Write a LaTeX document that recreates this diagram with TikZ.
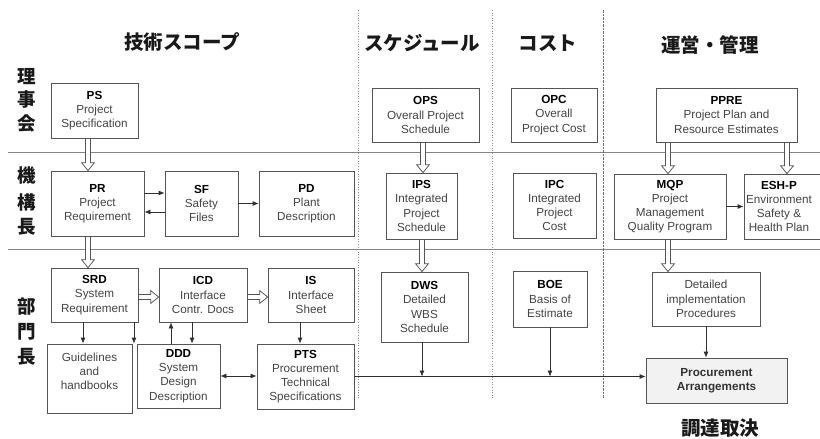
\documentclass[tikz,border=0pt]{standalone}
\usepackage{fontspec}
\setmainfont{Liberation Sans}
\newfontfamily\cjk{Noto Sans CJK JP}
\usetikzlibrary{arrows.meta,calc}
\definecolor{boxline}{HTML}{555555}
\definecolor{sepline}{HTML}{858585}
\definecolor{desc}{HTML}{454545}
\definecolor{arrline}{HTML}{303030}
\definecolor{pafill}{HTML}{F2F2F2}
\newcommand\ab[1]{{\bfseries\color{black}#1}}
\tikzset{
  box/.style={draw=boxline, line width=0.75pt, fill=white, align=center, inner sep=0pt,
    text=desc, font=\fontsize{11.7}{14.2}\selectfont},
  txt/.style={align=center, inner sep=0pt, text=desc, font=\fontsize{11.7}{14.2}\selectfont},
  arr/.style={draw=arrline, line width=0.75pt, -{Latex[length=6pt,width=5pt]}},
  biarr/.style={draw=arrline, line width=0.75pt, {Latex[length=6pt,width=5pt]}-{Latex[length=6pt,width=5pt]}},
  fat/.style={draw=boxline, fill=white, line width=0.75pt, line join=miter,
    to path={let \p1=(\tikztostart), \p2=(\tikztotarget), \p3=($(\p2)!8pt!(\p1)$) in
      ($(\p1)!2.6pt!90:(\p2)$) -- ($(\p3)!2.6pt!-90:(\p1)$) -- ($(\p3)!6.5pt!-90:(\p1)$)
      -- (\p2) -- ($(\p3)!6.5pt!90:(\p1)$) -- ($(\p3)!2.6pt!90:(\p1)$)
      -- ($(\p1)!2.6pt!-90:(\p2)$) -- cycle}},
  head/.style={font=\cjk\bfseries\fontsize{19.5}{22}\selectfont, text=black!90},
  side/.style={font=\cjk\bfseries\fontsize{18.5}{20}\selectfont, text=black!90},
  sep/.style={draw=sepline, line width=0.8pt},
  dotsep/.style={draw=black!45, line width=0.6pt, dotted},
  dashsep/.style={draw=black!55, line width=0.9pt, dash pattern=on 2.5pt off 1pt},
}
\begin{document}
\begin{tikzpicture}[x=1pt,y=-1pt]
\useasboundingbox (0,0) rectangle (820,439);
\clip (0,0) rectangle (820,439);

% separators
\draw[sep] (8,152) -- (820,152);
\draw[sep] (8,249) -- (820,249);
\draw[dotsep] (358,10) -- (358,398);
\draw[dotsep] (492,10) -- (492,398);
\draw[dashsep] (603,10) -- (603,398);

% headers
\node[head] (h1) at (182,42) {技術スコープ};
\node[head] (h2) at (422,43) {スケジュール};
\node[head] (h3) at (548,43) {コスト};
\node[head] (h4) at (710,45) {運営・管理};
\node[head] (h5) at (720,428) {調達取決};

% side labels
\node[side] (s1) at (27,77) {理};
\node[side] (s2) at (27,99) {事};
\node[side] (s3) at (27,123) {会};
\node[side] (s4) at (27,175) {機};
\node[side] (s5) at (27,202) {構};
\node[side] (s6) at (27,227) {長};
\node[side] (s7) at (27,307) {部};
\node[side] (s8) at (27,332) {門};
\node[side] (s9) at (27,357) {長};

% boxes
\node[box, minimum width=87pt, minimum height=55pt] (ps) at (94.5,110.5) {\ab{PS}\\Project\\Specification};
\node[box, minimum width=93pt, minimum height=65pt] (pr) at (97.5,203.5) {\ab{PR}\\Project\\Requirement};
\node[box, minimum width=73pt, minimum height=65pt] (sf) at (201.5,203.5) {\ab{SF}\\Safety\\Files};
\node[box, minimum width=95pt, minimum height=65pt] (pd) at (306.5,203.5) {\ab{PD}\\Plant\\Description};
\node[box, minimum width=87pt, minimum height=54pt] (srd) at (94.5,295) {\ab{SRD}\\System\\Requirement};
\node[box, minimum width=88pt, minimum height=54pt] (icd) at (203,295) {\ab{ICD}\\Interface\\Contr. Docs};
\node[box, minimum width=86pt, minimum height=54pt] (is) at (311,295) {\ab{IS}\\Interface\\Sheet};
\node[box, minimum width=85pt, minimum height=69pt] (gl) at (89.5,378.5) {Guidelines\\and\\handbooks\\[0pt]};
\node[box, minimum width=83pt, minimum height=64pt] (ddd) at (178.5,376) {\ab{DDD}\\System\\Design\\Description};
\node[box, minimum width=97pt, minimum height=65pt] (pts) at (305.5,376.5) {\ab{PTS}\\Procurement\\Technical\\Specifications};
\node[box, minimum width=107pt, minimum height=54pt] (ops) at (425.5,115) {\ab{OPS}\\Overall Project\\Schedule};
\node[box, minimum width=86pt, minimum height=54pt] (opc) at (554,115) {\ab{OPC}\\Overall\\Project Cost};
\node[box, minimum width=71pt, minimum height=66pt] (ips) at (421.5,206) {\ab{IPS}\\Integrated\\Project\\Schedule};
\node[box, minimum width=83pt, minimum height=65pt] (ipc) at (554.5,205.5) {\ab{IPC}\\Integrated\\Project\\Cost};
\node[box, minimum width=87pt, minimum height=70pt] (dws) at (424.5,307) {\ab{DWS}\\Detailed\\WBS\\Schedule};
\node[box, minimum width=74pt, minimum height=56pt] (boe) at (550,299) {\ab{BOE}\\Basis of\\Estimate};
\node[box, minimum width=141pt, minimum height=54pt] (ppre) at (726.5,115) {\ab{PPRE}\\Project Plan and\\Resource Estimates};
\node[box, minimum width=112pt, minimum height=65pt] (mqp) at (670,206.5) {\ab{MQP}\\Project\\Management\\Quality Program};
\node[box, minimum width=79pt, minimum height=65pt] (eshp) at (783.5,206.5) {};
\node[txt] (eshpt) at (779,206.5) {\ab{ESH-P}\\Environment\\Safety \&\\Health Plan};
\node[box, minimum width=108pt, minimum height=54pt] (dip) at (706,299) {Detailed\\implementation\\Procedures};
\node[box, minimum width=141pt, minimum height=45pt, fill=pafill, text=black!80, font=\bfseries\fontsize{11.7}{14.2}\selectfont] (pa) at (716.5,380.5) {Procurement\\Arrangements};

% hollow arrows
\coordinate (f1) at ([xshift=-6.5pt]ps.south);
\coordinate (f2) at ([xshift=-9.5pt]pr.south);
\coordinate (f3) at ([yshift=-2pt]srd.east);
\coordinate (f4) at ([yshift=-2pt]icd.east);
\coordinate (f5) at ([xshift=-2.5pt]ops.south);
\coordinate (f6) at ([xshift=0.5pt]ips.south);
\coordinate (f7) at ([xshift=-58.5pt]ppre.south);
\coordinate (f8) at ([xshift=60.5pt]ppre.south);
\coordinate (f9) at ([xshift=-2pt]mqp.south);
\path[fat] (f1) to (f1 |- pr.north);
\path[fat] (f2) to (f2 |- srd.north);
\path[fat] (f3) to (f3 -| icd.west);
\path[fat] (f4) to (f4 -| is.west);
\path[fat] (f5) to (f5 |- ips.north);
\path[fat] (f6) to (f6 |- dws.north);
\path[fat] (f7) to (f7 |- mqp.north);
\path[fat] (f8) to (f8 |- eshp.north);
\path[fat] (f9) to (f9 |- dip.north);

% thin arrows
\draw[arr] ([yshift=10.5pt]pr.east) -- ([yshift=10.5pt]pr.east -| sf.west);
\draw[arr] ([yshift=-8.5pt]sf.west) -- ([yshift=-8.5pt]sf.west -| pr.east);
\draw[arr] (sf.east) -- (pd.west);
\coordinate (a1) at ([xshift=-11.5pt]srd.south);
\coordinate (a2) at ([xshift=39.5pt]srd.south);
\coordinate (a3) at ([xshift=-7.5pt]ddd.north);
\coordinate (a4) at ([xshift=-11pt]icd.south);
\coordinate (a5) at ([xshift=-11pt]is.south);
\draw[arr] (a1) -- (a1 |- gl.north);
\draw[arr] (a2) -- (a2 |- gl.north);
\draw[arr] (a3) -- (a3 |- icd.south);
\draw[arr] (a4) -- (a4 |- ddd.north);
\draw[arr] (a5) -- (a5 |- pts.north);
\draw[biarr] (ddd.east) -- (ddd.east -| pts.west);
\draw[arr] (pts.east) -- (pts.east -| pa.west);
\coordinate (a6) at ([xshift=-2.5pt]dws.south);
\draw[arr] (a6) -- (a6 |- pts.east);
\draw[arr] (boe.south) -- (boe.south |- pts.east);
\draw[arr] (mqp.east) -- (eshp.west);
\draw[arr] (dip.south) -- (dip.south |- pa.north);
\end{tikzpicture}
\end{document}
